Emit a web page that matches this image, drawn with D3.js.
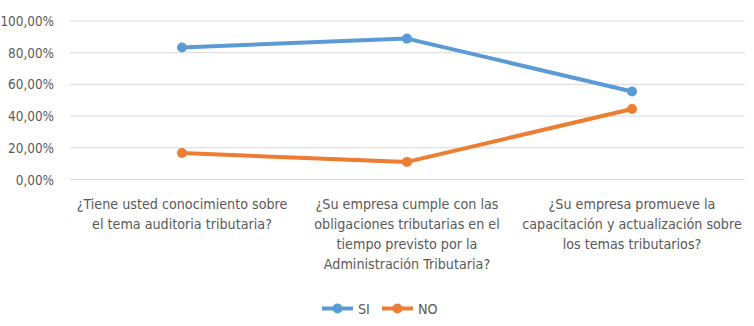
<!DOCTYPE html>
<html><head><meta charset="utf-8">
<script src="https://cdn.jsdelivr.net/npm/d3@7"></script>
<style>
body{margin:0;background:#fff;}
text{font-family:"DejaVu Sans Condensed","Liberation Sans Narrow",sans-serif;fill:#595959;}
</style></head><body>
<svg id="c" width="754" height="326"></svg>
<script>
const categories = [
  ["¿Tiene usted conocimiento sobre","el tema auditoria tributaria?"],
  ["¿Su empresa cumple con las","obligaciones tributarias en el","tiempo previsto por la","Administración Tributaria?"],
  ["¿Su empresa promueve la","capacitación y actualización sobre","los temas tributarios?"]
];
const seriesNames = ["SI","NO"];
const siValues = [0.8333, 0.8889, 0.5556];
const noValues = [0.1667, 0.1111, 0.4444];
const yTicks = [0,0.2,0.4,0.6,0.8,1.0];
const colors = ["#5B9BD5","#ED7D31"];

const svg = d3.select("#c");
const x = d3.scaleBand().domain(d3.range(categories.length)).range([69.5,744.5]);
const y = d3.scaleLinear().domain([0,1]).range([179.5,21]);
const fmt = v => d3.format(".2f")(v*100).replace(".",",")+"%";

svg.append("g").selectAll("line").data(yTicks).join("line")
  .attr("x1",69.5).attr("x2",745).attr("y1",d=>y(d)).attr("y2",d=>y(d))
  .attr("stroke","#d9d9d9").attr("stroke-width",1);
svg.append("g").selectAll("text").data(yTicks).join("text")
  .attr("x",54).attr("y",d=>y(d)+5).attr("text-anchor","end")
  .style("font-size","13.4px").text(fmt);

const lbl = svg.append("g").selectAll("text").data(categories).join("text")
  .attr("text-anchor","middle").style("font-size","14.2px");
lbl.each(function(lines,i){
  d3.select(this).selectAll("tspan").data(lines).join("tspan")
    .attr("x", x(i)+x.bandwidth()/2).attr("y",(d,j)=>209+j*20).text(d=>d);
});

const data = [siValues, noValues];
const line = d3.line().x((d,i)=>x(i)+x.bandwidth()/2).y(d=>y(d));
data.forEach((vals,s)=>{
  svg.append("path").datum(vals).attr("d",line).attr("fill","none")
    .attr("stroke",colors[s]).attr("stroke-width",4).attr("stroke-linejoin","round");
  svg.append("g").selectAll("circle").data(vals).join("circle")
    .attr("cx",(d,i)=>x(i)+x.bandwidth()/2).attr("cy",d=>y(d)).attr("r",5)
    .attr("fill",colors[s]);
});

const leg = svg.append("g");
const legX = [322, 382];
seriesNames.forEach((n,s)=>{
  leg.append("line").attr("x1",legX[s]).attr("x2",legX[s]+31).attr("y1",308.5).attr("y2",308.5)
    .attr("stroke",colors[s]).attr("stroke-width",4);
  leg.append("circle").attr("cx",legX[s]+15.5).attr("cy",308.5).attr("r",5).attr("fill",colors[s]);
  leg.append("text").attr("x",legX[s]+36).attr("y",313.5).style("font-size","14.2px").text(n);
});
</script></body></html>
